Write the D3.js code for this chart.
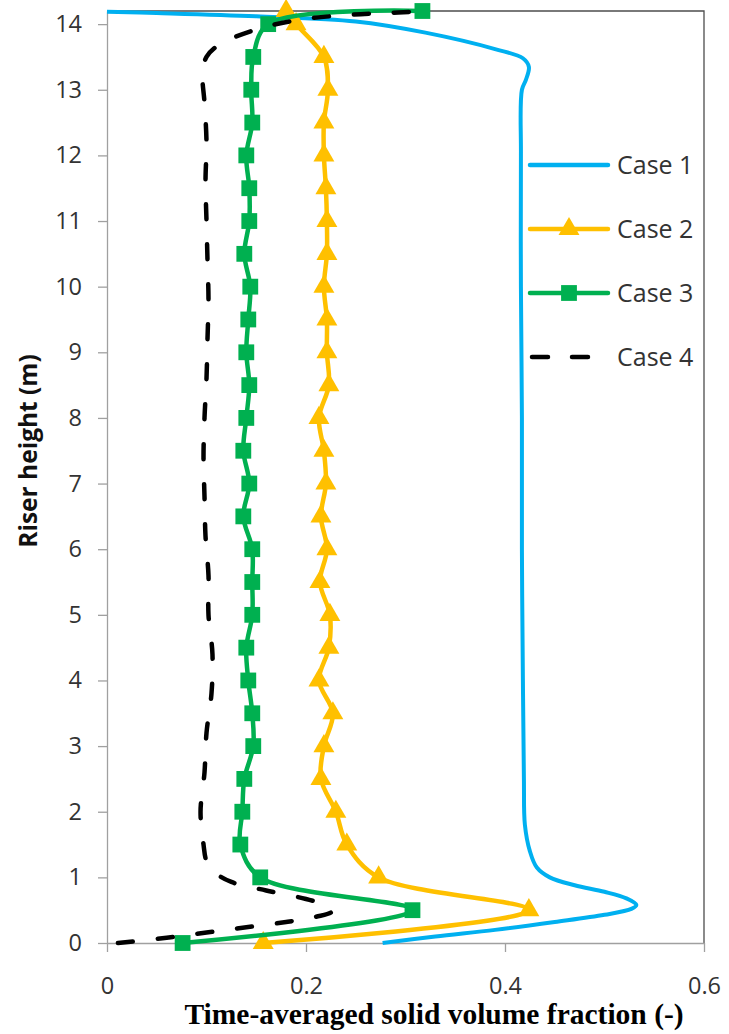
<!DOCTYPE html>
<html>
<head>
<meta charset="utf-8">
<script src="https://cdn.jsdelivr.net/npm/d3@7"></script>
<style>
  body { margin: 0; background: #fff; }
  svg { display: block; }
</style>
</head>
<body>
<div id="chart"></div>
<script>
// Case 1: smooth profile
const case1Height = [0, 0.1, 0.2, 0.32, 0.43, 0.52, 0.58, 0.68, 0.78, 0.88, 1.0, 1.15, 1.4, 1.8, 2.5, 4, 6, 8, 10, 12, 13.0, 13.15, 13.35, 13.48, 13.62, 13.87, 14.04, 14.12, 14.17, 14.19];
const case1Fraction = [0.277, 0.33, 0.39, 0.45, 0.50, 0.527, 0.532, 0.522, 0.50, 0.47, 0.445, 0.432, 0.425, 0.42, 0.419, 0.418, 0.417, 0.417, 0.416, 0.416, 0.417, 0.421, 0.424, 0.418, 0.39, 0.32, 0.25, 0.15, 0.05, 0];

// Case 2 and 3 share the marker heights
const markerHeight = [0, 0.5, 1, 1.5, 2, 2.5, 3, 3.5, 4, 4.5, 5, 5.5, 6, 6.5, 7, 7.5, 8, 8.5, 9, 9.5, 10, 10.5, 11, 11.5, 12, 12.5, 13, 13.5, 14, 14.2];
const case2Fraction = [0.157, 0.424, 0.273, 0.241, 0.230, 0.215, 0.218, 0.227, 0.213, 0.223, 0.224, 0.214, 0.221, 0.215, 0.220, 0.218, 0.213, 0.223, 0.221, 0.221, 0.218, 0.221, 0.221, 0.220, 0.218, 0.218, 0.222, 0.218, 0.190, 0.180];
const case3Fraction = [0.076, 0.307, 0.154, 0.134, 0.136, 0.138, 0.147, 0.146, 0.142, 0.140, 0.146, 0.146, 0.146, 0.137, 0.143, 0.137, 0.140, 0.143, 0.140, 0.142, 0.144, 0.138, 0.143, 0.143, 0.140, 0.146, 0.145, 0.147, 0.162, 0.317];

// Case 4: dashed smooth profile
const case4Height = [0, 0.08, 0.16, 0.24, 0.32, 0.40, 0.48, 0.56, 0.67, 0.8, 0.93, 1.08, 1.25, 1.5, 2.0, 2.6, 3.2, 3.8, 4.4, 5.0, 5.6, 6.2, 6.8, 7.4, 8.0, 8.6, 9.2, 9.8, 10.4, 11.0, 11.6, 12.2, 12.8, 13.25, 13.5, 13.68, 13.8, 13.97, 14.08, 14.14, 14.17, 14.19];
const case4Fraction = [0.011, 0.06, 0.10, 0.14, 0.18, 0.21, 0.226, 0.222, 0.20, 0.16, 0.125, 0.108, 0.100, 0.097, 0.094, 0.098, 0.100, 0.105, 0.106, 0.102, 0.102, 0.099, 0.098, 0.097, 0.098, 0.100, 0.101, 0.102, 0.101, 0.100, 0.099, 0.100, 0.098, 0.096, 0.100, 0.112, 0.128, 0.162, 0.20, 0.242, 0.282, 0.31];

const legendLabels = ["Case 1", "Case 2", "Case 3", "Case 4"];
const xTicks = [0, 0.2, 0.4, 0.6];
const yTicks = [0, 1, 2, 3, 4, 5, 6, 7, 8, 9, 10, 11, 12, 13, 14];

const colors = ["#00b0f0", "#ffc000", "#00b050", "#000000"];

const width = 729;
const height = 1034;

const svg = d3.select("#chart")
  .append("svg")
  .attr("width", width)
  .attr("height", height);

const x = d3.scaleLinear().domain([0, 0.6]).range([107, 704]);
const y = d3.scaleLinear().domain([0, 14.2]).range([943, 11]);

// plot frame (top and right)
svg.append("path")
  .attr("d", `M${x(0)},${y(14.2)}H${x(0.6)}V${y(0)}`)
  .attr("fill", "none")
  .attr("stroke", "#4d4d4d")
  .attr("stroke-width", 1.3);

// axes
const yAxis = svg.append("g")
  .attr("transform", `translate(${x(0)},0)`)
  .call(d3.axisLeft(y).tickValues(yTicks).tickSize(9).tickSizeOuter(0).tickPadding(16).tickFormat(d3.format("d")));

const xAxis = svg.append("g")
  .attr("transform", `translate(0,${y(0)})`)
  .call(d3.axisBottom(x).tickValues(xTicks).tickSize(9).tickSizeOuter(0).tickPadding(25)
    .tickFormat(d => d === 0 ? "0" : d3.format(".1f")(d)));

[yAxis, xAxis].forEach(g => {
  g.select(".domain").attr("stroke", "#a0a0a0").attr("stroke-width", 1.3);
  g.selectAll(".tick line").attr("stroke", "#a0a0a0").attr("stroke-width", 1.3);
  g.selectAll(".tick text")
    .attr("fill", "#333")
    .attr("font-family", "'Open Sans', sans-serif")
    .attr("font-size", "23.5px");
});

// axis titles
svg.append("text")
  .attr("transform", "translate(37,451) rotate(-90)")
  .attr("text-anchor", "middle")
  .attr("font-family", "'Open Sans', sans-serif")
  .attr("font-weight", "bold")
  .attr("font-size", "24.5px")
  .attr("fill", "#111")
  .text("Riser height (m)");

svg.append("text")
  .attr("x", 434)
  .attr("y", 1024)
  .attr("text-anchor", "middle")
  .attr("font-family", "'Liberation Serif', 'Times New Roman', serif")
  .attr("font-weight", "bold")
  .attr("font-size", "29.5px")
  .attr("fill", "#000")
  .text("Time-averaged solid volume fraction (-)");

const line = d3.line()
  .x(d => x(d[0]))
  .y(d => y(d[1]))
  .curve(d3.curveCatmullRom);

const case1 = d3.zip(case1Fraction, case1Height);
const case2 = d3.zip(case2Fraction, markerHeight);
const case3 = d3.zip(case3Fraction, markerHeight);
const case4 = d3.zip(case4Fraction, case4Height);

const triangle = d3.symbol().type(d3.symbolTriangle).size(190);
const square = d3.symbol().type(d3.symbolSquare).size(250);

// Case 1
svg.append("path")
  .datum(case1)
  .attr("d", line)
  .attr("fill", "none")
  .attr("stroke", colors[0])
  .attr("stroke-width", 4)
  .attr("stroke-linejoin", "round");

// Case 2
svg.append("path")
  .datum(case2)
  .attr("d", line)
  .attr("fill", "none")
  .attr("stroke", colors[1])
  .attr("stroke-width", 4.5);

svg.selectAll(".tri")
  .data(case2)
  .join("path")
  .attr("class", "tri")
  .attr("transform", d => `translate(${x(d[0])},${y(d[1])})`)
  .attr("d", triangle)
  .attr("fill", colors[1]);

// Case 3
svg.append("path")
  .datum(case3)
  .attr("d", line)
  .attr("fill", "none")
  .attr("stroke", colors[2])
  .attr("stroke-width", 4.5);

svg.selectAll(".sq")
  .data(case3)
  .join("path")
  .attr("class", "sq")
  .attr("transform", d => `translate(${x(d[0])},${y(d[1])})`)
  .attr("d", square)
  .attr("fill", colors[2]);

// Case 4
svg.append("path")
  .datum(case4)
  .attr("d", line)
  .attr("fill", "none")
  .attr("stroke", colors[3])
  .attr("stroke-width", 4.5)
  .attr("stroke-dasharray", "15,25")
  .attr("stroke-linecap", "round");

// legend
const legendY = [165, 229, 293, 357];
const legend = svg.selectAll(".legend")
  .data(legendLabels)
  .join("g")
  .attr("class", "legend")
  .attr("transform", (d, i) => `translate(0,${legendY[i]})`);

legend.append("line")
  .attr("x1", (d, i) => i === 3 ? 532 : 530)
  .attr("x2", 608)
  .attr("stroke", (d, i) => colors[i])
  .attr("stroke-width", 4.5)
  .attr("stroke-linecap", "round")
  .attr("stroke-dasharray", (d, i) => i === 3 ? "16,24" : null);

legend.filter((d, i) => i === 1).append("path")
  .attr("transform", "translate(569,0)")
  .attr("d", triangle)
  .attr("fill", colors[1]);

legend.filter((d, i) => i === 2).append("path")
  .attr("transform", "translate(569,0)")
  .attr("d", square)
  .attr("fill", colors[2]);

legend.append("text")
  .attr("x", 617)
  .attr("dy", "0.35em")
  .attr("fill", "#333")
  .attr("font-family", "'Open Sans', sans-serif")
  .attr("font-size", "25px")
  .text(d => d);
</script>
</body>
</html>
